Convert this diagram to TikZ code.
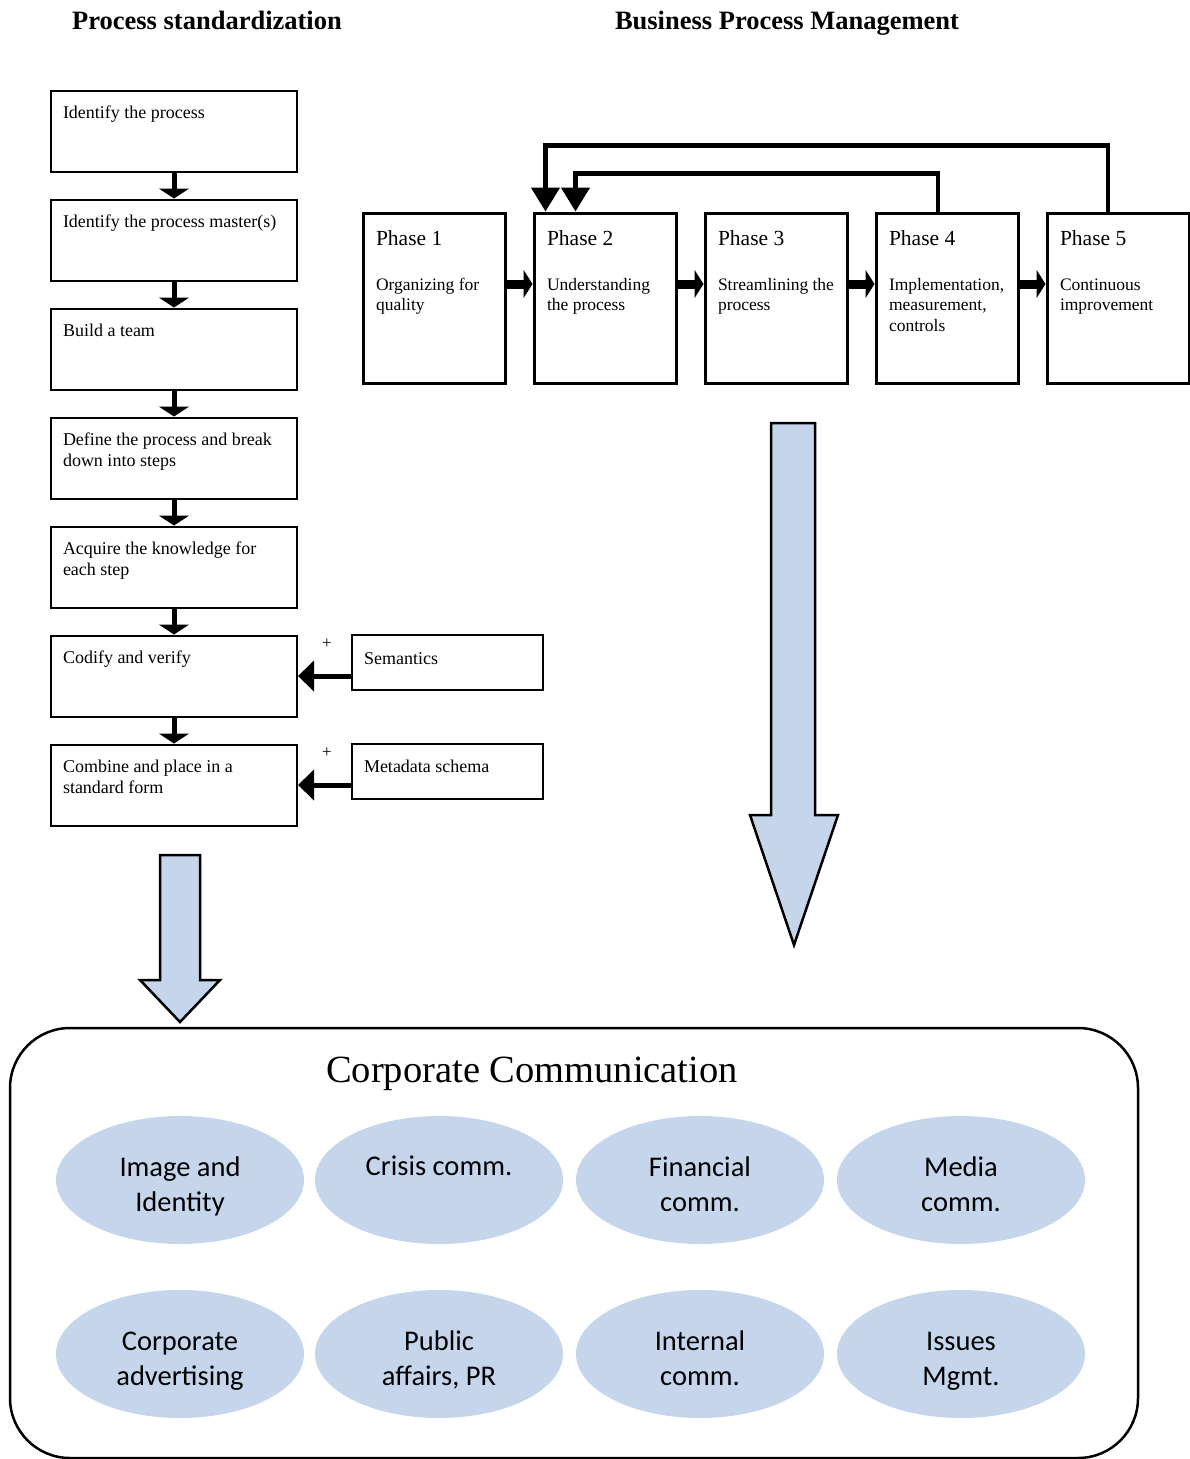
\documentclass[tikz,border=0pt]{standalone}
\usepackage{fontspec}
\setmainfont{Liberation Serif}
\newfontfamily\commfont{Carlito}
\usetikzlibrary{arrows.meta, shapes.geometric}

\definecolor{commblue}{RGB}{197,214,236}

% text placed at the top left of a box
\newcommand{\stdtext}[1]{\parbox[c][81pt][t]{222pt}{\rule{0pt}{28pt}#1}}
\newcommand{\sidetext}[1]{\parbox[c][55pt][t]{167pt}{\rule{0pt}{29pt}#1}}
\newcommand{\phasetext}[2]{\parbox[c][170pt][t]{116pt}{\rule{0pt}{32pt}{\fontsize{21.5}{24}\selectfont #1}\par\rule{0pt}{44pt}#2}}
% two lines in an ellipse, set a little low
\newcommand{\commtext}[2]{\rule{0pt}{32pt}#1\\#2\vphantom{gy}}

\tikzset{
  heading/.style={anchor=base, font=\bfseries\fontsize{26.5}{30}\selectfont},
  stdbox/.style={draw, line width=2pt, inner sep=0pt, minimum width=246pt, minimum height=81pt,
    font=\fontsize{18}{21}\selectfont},
  sidebox/.style={draw, line width=2pt, inner sep=0pt, minimum width=191pt, minimum height=55pt,
    font=\fontsize{18}{21}\selectfont},
  phasebox/.style={draw, line width=3pt, inner sep=0pt, minimum width=142pt, minimum height=170pt,
    font=\fontsize{17.5}{20.5}\selectfont},
  commell/.style={ellipse, fill=commblue, inner sep=0pt, minimum width=248pt, minimum height=128pt,
    align=center, font=\commfont\fontsize{28.5}{35}\selectfont},
  flowarrow/.style={line width=5pt, -{Triangle[width=30pt,length=10pt]}},
  sidearrow/.style={line width=5pt, -{Triangle[width=30pt,length=16pt]}},
  phasearrow/.style={line width=9pt, -{Triangle[width=28pt,length=9pt]}},
  loopback/.style={line width=4.5pt, -{Triangle[width=28pt,length=24pt]}},
  bigarrow/.style={draw, line width=2.5pt, fill=commblue, line join=miter}
}

\begin{document}
\begin{tikzpicture}[x=1pt, y=1pt]
\useasboundingbox (0,0) rectangle (1190,-1459);

% Headings
\node[heading] (psttl) at (207,-29) {Process standardization};
\node[heading] (bpmttl) at (787,-29) {Business Process Management};

% Process standardization steps
\node[stdbox] (s1) at (174,-131) {\stdtext{Identify the process}};
\node[stdbox] (s2) at (174,-240) {\stdtext{Identify the process master(s)}};
\node[stdbox] (s3) at (174,-349) {\stdtext{Build a team}};
\node[stdbox] (s4) at (174,-458) {\stdtext{Define the process and break\\down into steps}};
\node[stdbox] (s5) at (174,-567) {\stdtext{Acquire the knowledge for\\each step}};
\node[stdbox] (s6) at (174,-676) {\stdtext{Codify and verify}};
\node[stdbox] (s7) at (174,-785) {\stdtext{Combine and place in a\\standard form}};

\draw[flowarrow] (s1) -- (s2);
\draw[flowarrow] (s2) -- (s3);
\draw[flowarrow] (s3) -- (s4);
\draw[flowarrow] (s4) -- (s5);
\draw[flowarrow] (s5) -- (s6);
\draw[flowarrow] (s6) -- (s7);

% Inputs
\node[sidebox] (sem) at (447.5,-662.5) {\sidetext{Semantics}};
\node[sidebox] (meta) at (447.5,-771) {\sidetext{Metadata schema}};

\draw[sidearrow] (sem.west |- s6.east) -- (s6.east);
\draw[sidearrow] (meta.west |- s7.east) -- (s7.east);

\node[font=\fontsize{17}{20}\selectfont] (plus1) at (327,-644) {+};
\node[font=\fontsize{17}{20}\selectfont] (plus2) at (327,-753) {+};

% Phases
\node[phasebox] (p1) at (434,-298) {\phasetext{Phase 1}{Organizing for\\quality}};
\node[phasebox] (p2) at (605,-298) {\phasetext{Phase 2}{Understanding\\the process}};
\node[phasebox] (p3) at (776,-298) {\phasetext{Phase 3}{Streamlining the\\process}};
\node[phasebox] (p4) at (947,-298) {\phasetext{Phase 4}{Implementation,\\measurement,\\controls}};
\node[phasebox] (p5) at (1118,-298) {\phasetext{Phase 5}{Continuous\\improvement}};

\draw[phasearrow] ([yshift=14pt]p1.east) -- ([yshift=14pt]p2.west);
\draw[phasearrow] ([yshift=14pt]p2.east) -- ([yshift=14pt]p3.west);
\draw[phasearrow] ([yshift=14pt]p3.east) -- ([yshift=14pt]p4.west);
\draw[phasearrow] ([yshift=14pt]p4.east) -- ([yshift=14pt]p5.west);

% Loops back to phase 2
\draw[loopback] ([xshift=-10pt]p5.north) -- ++(0,66) -| ([xshift=13pt]p2.north west);
\draw[loopback] ([xshift=-9pt]p4.north) -- ++(0,38) -| ([xshift=43pt]p2.north west);

% Block arrows
\draw[bigarrow] (771,-423) -- (815,-423) -- (815,-815) -- (838,-815) -- (794,-945)
  -- (750,-815) -- (771,-815) -- cycle;
\draw[bigarrow] (160,-855) -- (200,-855) -- (200,-980) -- (220,-980) -- (180,-1022)
  -- (140,-980) -- (160,-980) -- cycle;

% Corporate communication
\node[draw, line width=2.5pt, rounded corners=60pt, minimum width=1128pt, minimum height=430pt]
  (comm) at (574,-1243) {};
\node[font=\fontsize{38.5}{42}\selectfont] (commttl) at (532,-1074) {Corporate Communication};

\node[commell] (img) at (180,-1180) {\commtext{Image and}{Identity}};
\node[commell] (crisis) at (439,-1180) {\rule{0pt}{26pt}Crisis comm.\\\mbox{}};
\node[commell] (fin) at (700,-1180) {\commtext{Financial}{comm.}};
\node[commell] (media) at (961,-1180) {\commtext{Media}{comm.}};
\node[commell] (adv) at (180,-1354) {\commtext{Corporate}{advertising}};
\node[commell] (pub) at (439,-1354) {\commtext{Public}{affairs, PR}};
\node[commell] (intern) at (700,-1354) {\commtext{Internal}{comm.}};
\node[commell] (issues) at (961,-1354) {\commtext{Issues}{Mgmt.}};

\end{tikzpicture}
\end{document}
